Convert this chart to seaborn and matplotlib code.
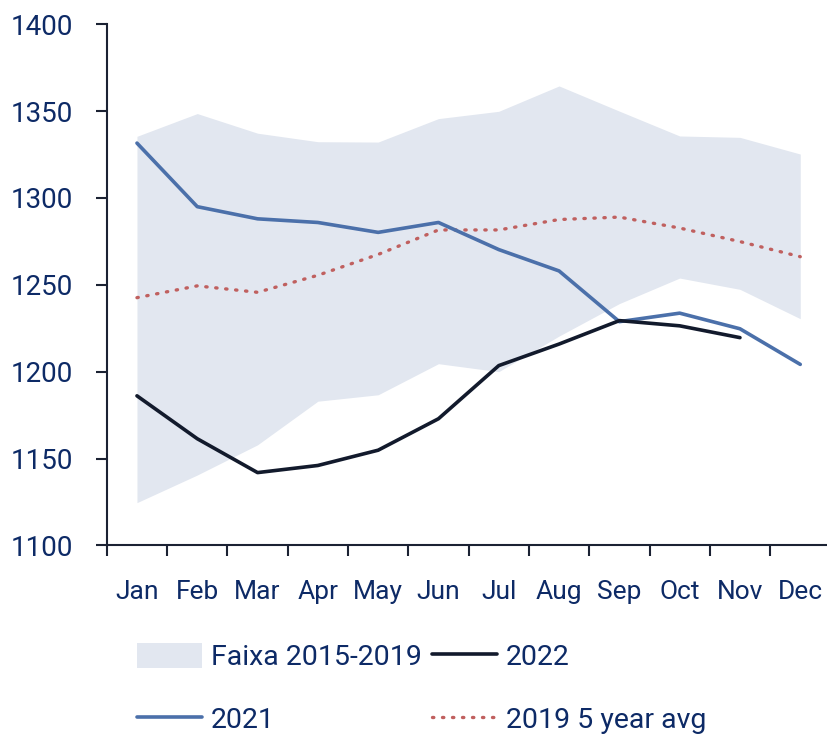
import pandas as pd
import numpy as np
import matplotlib.pyplot as plt
import seaborn as sns
from matplotlib.patches import Patch
from matplotlib.lines import Line2D
from matplotlib.ticker import FixedLocator


# dados
meses = ["Jan", "Feb", "Mar", "Apr", "May", "Jun", "Jul", "Aug", "Sep", "Oct", "Nov", "Dec"]
faixa_min = [1124.6, 1140.5, 1157.9, 1183.0, 1186.7, 1204.6, 1200.0, 1220.5, 1239.2, 1253.9, 1247.4, 1230.5]
faixa_max = [1335.5, 1348.6, 1337.3, 1332.4, 1332.2, 1345.7, 1349.9, 1364.5, 1350.0, 1335.7, 1334.9, 1325.3]
v2021 = [1331.6, 1295.0, 1288.0, 1285.9, 1280.2, 1285.9, 1270.3, 1258.0, 1228.8, 1233.7, 1224.7, 1204.2]
v2022 = [1186.1, 1161.4, 1141.9, 1146.0, 1154.8, 1172.9, 1203.5, 1215.9, 1229.4, 1226.4, 1219.6]
media5 = [1242.6, 1249.4, 1245.7, 1255.5, 1267.5, 1281.6, 1281.6, 1287.6, 1289.0, 1282.7, 1274.9, 1266.2]

texto = "#0d2a66"
eixo = "#1b2233"
c_faixa = "#e2e7f0"
c_2021 = "#4b70aa"
c_2022 = "#121a2c"
c_media = "#c0605f"
pontilhado = (0, (0.4, 2.6))

sns.set_style("white")
plt.rcParams['font.family'] = ['Roboto', 'DejaVu Sans']

x = np.arange(len(meses))
df21 = pd.DataFrame({"x": x, "v": v2021})
df22 = pd.DataFrame({"x": x[:len(v2022)], "v": v2022})
dfm = pd.DataFrame({"x": x, "v": media5})

fig = plt.figure(figsize=(8.28, 7.36), dpi=100)
ax = fig.add_axes([0.129, 0.259, 0.871, 0.708])

ax.fill_between(x, faixa_min, faixa_max, color=c_faixa, linewidth=0, zorder=1)
sns.lineplot(data=df21, x="x", y="v", color=c_2021, linewidth=2.6, ax=ax, zorder=3)
sns.lineplot(data=df22, x="x", y="v", color=c_2022, linewidth=2.6, ax=ax, zorder=4)
sns.lineplot(data=dfm, x="x", y="v", color=c_media, linewidth=2.4, ax=ax, zorder=2)
ax.lines[-1].set_linestyle(pontilhado)
ax.lines[-1].set_dash_capstyle("round")

ax.set_xlim(-0.5, 11.46)
ax.set_ylim(1100, 1400)
ax.set_yticks(range(1100, 1401, 50))
ax.set_xticks(x)
ax.set_xticklabels(meses)
ax.xaxis.set_minor_locator(FixedLocator(np.arange(-0.5, 11.5, 1)))
ax.set_xlabel("")
ax.set_ylabel("")

for s in ["top", "right"]:
    ax.spines[s].set_visible(False)
for s in ["left", "bottom"]:
    ax.spines[s].set_color(eixo)
    ax.spines[s].set_linewidth(1.5)

ax.tick_params(axis="y", which="major", length=8, width=1.5, color=eixo, pad=16,
               labelsize=20, labelcolor=texto, left=True)
ax.tick_params(axis="x", which="major", length=0, pad=25, labelsize=19, labelcolor=texto)
ax.tick_params(axis="x", which="minor", length=8, width=1.5, color=eixo, bottom=True)

handles = [
    Patch(facecolor=c_faixa, edgecolor="none"),
    Line2D([], [], color=c_2021, linewidth=2.6),
    Line2D([], [], color=c_2022, linewidth=2.6),
    Line2D([], [], color=c_media, linewidth=2.4, linestyle=pontilhado, dash_capstyle="round"),
]
labels = ["Faixa 2015-2019", "2021", "2022", "2019 5 year avg"]
leg = ax.legend(handles, labels, ncol=2, loc="upper left", bbox_to_anchor=(0.026, -0.165),
                frameon=False, fontsize=20.5, handlelength=2.3, handleheight=1.0,
                handletextpad=0.3, columnspacing=0.35, labelspacing=1.2, borderaxespad=0)
for t in leg.get_texts():
    t.set_color(texto)

fig.savefig("out.png", dpi=100)
